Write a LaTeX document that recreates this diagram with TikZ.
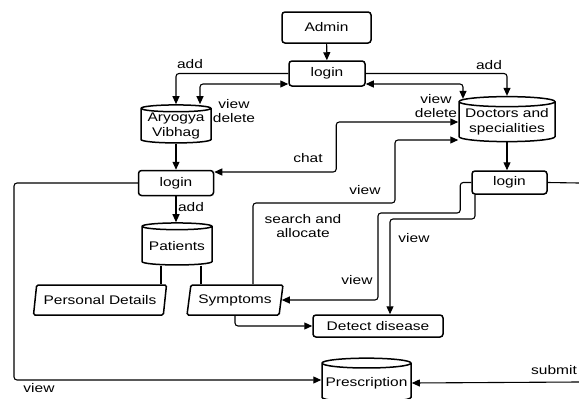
\documentclass[tikz,border=0pt]{standalone}
\usepackage{fontspec}
\setmainfont{Liberation Sans}[FakeStretch=1.24]
\usetikzlibrary{arrows.meta,shapes.geometric}

\begin{document}
\begin{tikzpicture}[x=1pt,y=-1pt,
  font=\fontsize{12.5}{14.5}\selectfont,
  box/.style={draw, line width=1.5pt, rounded corners=3pt, align=center, inner sep=0pt},
  db/.style={draw, line width=1.5pt, cylinder, shape border rotate=90, aspect=0.12, align=center, inner sep=0pt},
  io/.style={draw, line width=1.5pt, rounded corners=1.5pt, trapezium, trapezium left angle=71, trapezium right angle=109,
             trapezium stretches body, inner sep=0pt, minimum height=30pt},
  link/.style={line width=1.1pt, rounded corners=3pt},
  arr/.style={link, -{Triangle[length=8pt,width=7pt]}},
  arrb/.style={link, {Triangle[length=8pt,width=7pt]}-{Triangle[length=8pt,width=7pt]}},
  lbl/.style={inner sep=0pt, align=center}]

\useasboundingbox (0,0) rectangle (579,399);
\clip (0,0) rectangle (579,399);

% entities
\node[box, minimum width=89pt, minimum height=31pt] (admin) at (326.5,27.5) {Admin};
\node[box, minimum width=76pt, minimum height=25pt] (login1) at (327,73.5) {login};
\node[db, minimum width=70pt, minimum height=38pt] (ary) at (176,126) {Aryogya\\Vibhag};
\node[db, minimum width=96pt, minimum height=45pt] (doc) at (507,122) {Doctors and\\specialities};
\node[box, minimum width=75pt, minimum height=25pt] (login2) at (176,183) {login};
\node[box, minimum width=75pt, minimum height=23pt] (login3) at (509.5,182.5) {login};
\node[db, minimum width=70pt, minimum height=42pt] (pat) at (177,246) {Patients};
\node[io, minimum width=133pt] (pd) at (100,300) {Personal Details};
\node[io, minimum width=96pt] (sym) at (235,300) {Symptoms};
\node[box, minimum width=130pt, minimum height=22pt] (det) at (378,326) {Detect disease};
\node[db, minimum width=89pt, minimum height=44pt] (pre) at (366.5,383) {Prescription};

% connectors leaving the page on the right
\coordinate (eR1) at (579,183);
\coordinate (eR2) at (579,382);

% admin side
\draw[arr] (admin) -- (login1);
\draw[arr] (login1.west) -| (ary.north);
\draw[arrb] ([xshift=24pt]ary.north) |- ([yshift=-10.5pt]login1.west);
\draw[arr] (login1.east) -| (doc.north);
\draw[arrb] ([yshift=-10.5pt]login1.east) -| ([xshift=-44pt,yshift=-3pt]doc.north);

% Aryogya Vibhag side
\draw[arr] (ary.south) -- (login2.north);
\draw[arrb] ([yshift=11pt]login2.east) -- ++(122,0) |- (doc.west);
\draw[arr] (login2.south) -- (login2.south |- pat.north);
\draw[link] ([xshift=-16pt]pat.south) -- ([xshift=-16pt]pat.south |- pd.north);
\draw[link] ([xshift=24pt]pat.south) -- ([xshift=24pt]pat.south |- sym.north);
\draw[arr] ([xshift=18pt]sym.north) |- (395,203) |- ([yshift=-18pt]doc.west);
\draw[arr] (sym.south) |- (det.west);
\draw[arr] (login2.west) -| (14,300) |- ([yshift=3pt]pre.west);

% doctors side
\draw[arr] (doc.south) -- (doc.south |- login3.north);
\draw[arr] (login3.west) -- ++(-11,0) |- (378,213) |- (sym.east);
\draw[arr] ([xshift=-34.5pt]login3.south) |- (390,219) -- ([xshift=12pt]det.north);
\draw[link] (login3.east) -- (eR1);
\draw[arr] (eR2) -- (pre.east);

% labels
\node[lbl] (tadd1) at (190,64) {add};
\node[lbl] (tvd1) at (234,111) {view\\delete};
\node[lbl] (tadd2) at (489,65) {add};
\node[lbl] (tvd2) at (436,106) {view\\delete};
\node[lbl] (tchat) at (308,158) {chat};
\node[lbl] (tview1) at (365,190) {view};
\node[lbl] (tsa) at (303,226) {search and\\allocate};
\node[lbl] (tview2) at (414,238) {view};
\node[lbl] (tview3) at (357,280) {view};
\node[lbl] (tadd3) at (191,207) {add};
\node[lbl] (tview4) at (39,388) {view};
\node[lbl, anchor=west] (tsub) at (531,370) {submit};
\end{tikzpicture}
\end{document}
